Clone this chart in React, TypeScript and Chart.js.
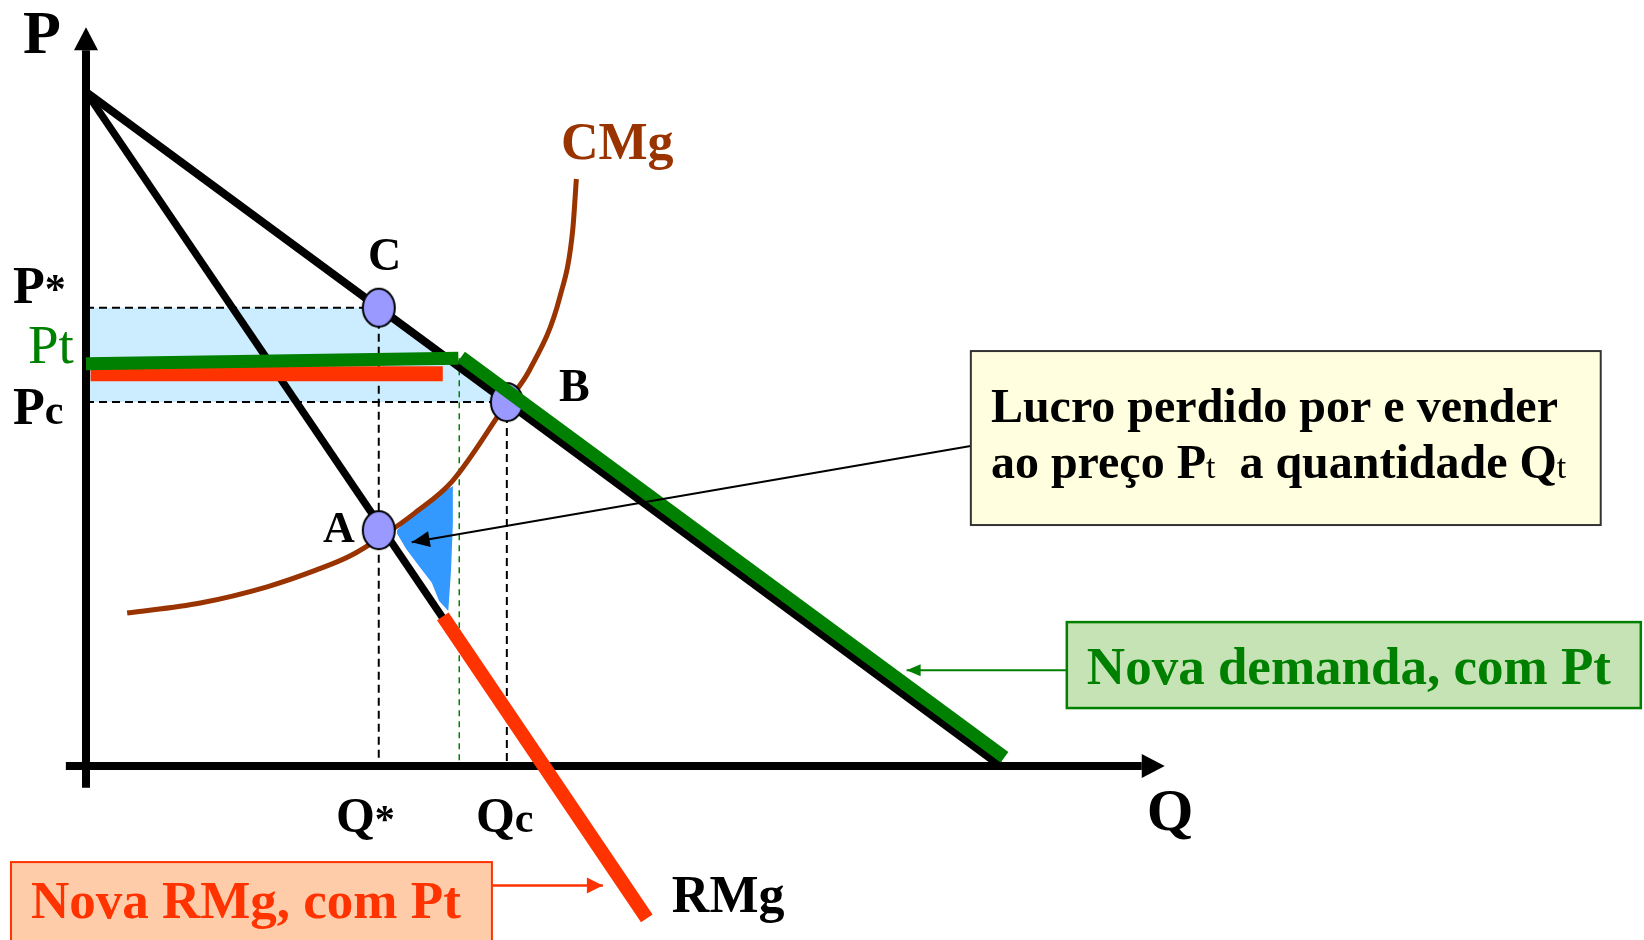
import { useEffect, useRef } from "react";
import { Chart, registerables } from "chart.js";

Chart.register(...registerables);

// Visible window of the Q (x) and P (y) axes
const Q_MIN = -0.94;
const Q_MAX = 17.03;
const P_MIN = -2.58;
const P_MAX = 11.365;

// Market demand and the monopolist's marginal revenue
const demandQ = [0, 10];
const demandP = [10, 0];
const rmgQ = [0, 3.9];
const rmgP = [10, 2.2];

// Marginal cost curve (CMg)
const cmgQ = [0.45, 1.25, 1.98, 2.52, 2.89, 3.25, 3.6, 4.0, 4.6, 4.85, 5.18, 5.32, 5.36];
const cmgP = [2.27, 2.42, 2.66, 2.91, 3.12, 3.42, 3.76, 4.22, 5.39, 5.88, 6.96, 7.95, 8.71];

// Key price / quantity levels
const pStar = 6.8;
const qStar = 3.2;
const pComp = 5.4;
const qComp = 4.6;
const pCeilLeft = 5.97;
const pCeilRight = 6.05;
const qCeil = 4.08;

// Equilibrium points C, B, A
const pointLabels = ["C", "B", "A"];
const pointQ = [qStar, qComp, qStar];
const pointP = [pStar, pComp, 3.5];

// New demand with the ceiling price Pt: flat part and the part along demand
const newDemandFlatQ = [0, 4.07];
const newDemandFlatP = [pCeilLeft, pCeilRight];
const newDemandSlopeQ = [4.1, 10.04];
const newDemandSlopeP = [6.07, 0.13];

// New marginal revenue with Pt: flat part and the remaining part of RMg
const newRmgFlatQ = [0.05, 3.9];
const newRmgFlatP = [5.82, 5.82];
const newRmgDownQ = [3.9, 6.13];
const newRmgDownP = [2.22, -2.26];

// Shaded band between P* and Pc under the demand curve
const bandQ = [0, qStar, qComp, 0];
const bandP = [pStar, pStar, pComp, pComp];

// Lost profit region between CMg and RMg
const lostQ = [3.4, 3.55, 3.78, 4.01, 4.01, 3.99, 3.96, 3.86, 3.78, 3.65, 3.5, 3.4];
const lostP = [3.5, 3.72, 3.98, 4.15, 3.6, 2.9, 2.3, 2.45, 2.72, 2.95, 3.22, 3.45];

// Axes
const axisXQ = [-0.22, 11.54];
const axisXP = [0, 0];
const axisYQ = [0, 0];
const axisYP = [-0.32, 10.62];

// Pointer arrows from the text boxes
const lucroArrowQ = [9.67, 3.56];
const lucroArrowP = [4.75, 3.32];
const demandaArrowQ = [10.72, 8.97];
const demandaArrowP = [1.42, 1.42];
const rmgArrowQ = [4.44, 5.65];
const rmgArrowP = [-1.77, -1.77];

const SERIF = '"Liberation Serif", "Times New Roman", serif';
const GREEN = "#008000";
const RED = "#FF3300";
const BROWN = "#993300";

type Run = { t: string; size: number; bold?: boolean };
type Label = { q: number; p: number; color: string; runs: Run[] };

const LABELS: Label[] = [
  { q: -0.689, p: 10.579, color: "#000", runs: [{ t: "P", size: 62 }] },
  { q: 11.596, p: -0.95, color: "#000", runs: [{ t: "Q", size: 60 }] },
  { q: -0.798, p: 6.87, color: "#000", runs: [{ t: "P", size: 52 }, { t: "*", size: 42 }] },
  { q: -0.634, p: 5.979, color: GREEN, runs: [{ t: "Pt", size: 55, bold: false }] },
  { q: -0.798, p: 5.074, color: "#000", runs: [{ t: "P", size: 52 }, { t: "c", size: 42 }] },
  { q: 3.082, p: 7.359, color: "#000", runs: [{ t: pointLabels[0], size: 46 }] },
  { q: 5.169, p: 5.415, color: "#000", runs: [{ t: pointLabels[1], size: 46 }] },
  { q: 2.59, p: 3.323, color: "#000", runs: [{ t: pointLabels[2], size: 44 }] },
  { q: 5.191, p: 9.006, color: BROWN, runs: [{ t: "CMg", size: 52 }] },
  { q: 2.732, p: -0.979, color: "#000", runs: [{ t: "Q", size: 50 }, { t: "*", size: 40 }] },
  { q: 4.262, p: -0.979, color: "#000", runs: [{ t: "Q", size: 50 }, { t: "c", size: 42 }] },
  { q: 6.404, p: -2.166, color: "#000", runs: [{ t: "RMg", size: 52 }] },
  { q: 9.891, p: 5.104, color: "#000", runs: [{ t: "Lucro perdido por e vender", size: 48 }] },
  {
    q: 9.891,
    p: 4.273,
    color: "#000",
    runs: [
      { t: "ao preço P", size: 48 },
      { t: "t", size: 34, bold: false },
      { t: "  a quantidade Q", size: 48 },
      { t: "t", size: 34, bold: false },
    ],
  },
  { q: 10.94, p: 1.217, color: GREEN, runs: [{ t: "Nova demanda, com Pt", size: 53 }] },
  { q: -0.601, p: -2.255, color: RED, runs: [{ t: "Nova RMg, com Pt", size: 53 }] },
];

type Box = { q0: number; p0: number; q1: number; p1: number; fill: string; stroke: string; lw: number };
const BOXES: Box[] = [
  { q0: 9.672, p0: 6.157, q1: 16.557, p1: 3.576, fill: "#FFFFE0", stroke: "#333333", lw: 2 },
  { q0: 10.721, p0: 2.136, q1: 16.995, p1: 0.861, fill: "#C5E3B5", stroke: GREEN, lw: 2.5 },
  { q0: -0.82, p0: -1.424, q1: 4.437, p1: -2.7, fill: "#FFCCAA", stroke: RED, lw: 2 },
];

const toPts = (qs: number[], ps: number[]) => qs.map((q, i) => ({ x: q, y: ps[i] }));

function makeEllipse(): HTMLCanvasElement {
  const c = document.createElement("canvas");
  c.width = 36;
  c.height = 42;
  const g = c.getContext("2d")!;
  g.beginPath();
  g.ellipse(18, 21, 16, 19, 0, 0, Math.PI * 2);
  g.fillStyle = "#9999FF";
  g.fill();
  g.lineWidth = 2;
  g.strokeStyle = "#000";
  g.stroke();
  return c;
}

const arrowPlugin = {
  id: "arrowHeads",
  afterDatasetsDraw(chart: any) {
    const ctx = chart.ctx as CanvasRenderingContext2D;
    chart.data.datasets.forEach((ds: any, i: number) => {
      if (!ds.arrowHead) return;
      const pts = chart.getDatasetMeta(i).data;
      const a = pts[pts.length - 2];
      const b = pts[pts.length - 1];
      const ang = Math.atan2(b.y - a.y, b.x - a.x);
      const { len, half, beyond } = ds.arrowHead;
      const tx = b.x + (beyond ? len * Math.cos(ang) : 0);
      const ty = b.y + (beyond ? len * Math.sin(ang) : 0);
      ctx.save();
      ctx.translate(tx, ty);
      ctx.rotate(ang);
      ctx.beginPath();
      ctx.moveTo(0, 0);
      ctx.lineTo(-len, -half);
      ctx.lineTo(-len, half);
      ctx.closePath();
      ctx.fillStyle = ds.borderColor;
      ctx.fill();
      ctx.restore();
    });
  },
};

const labelPlugin = {
  id: "boxesAndLabels",
  afterDatasetsDraw(chart: any) {
    const ctx = chart.ctx as CanvasRenderingContext2D;
    const xs = chart.scales.x;
    const ys = chart.scales.y;
    ctx.save();
    for (const b of BOXES) {
      const x0 = xs.getPixelForValue(b.q0);
      const x1 = xs.getPixelForValue(b.q1);
      const y0 = ys.getPixelForValue(b.p0);
      const y1 = ys.getPixelForValue(b.p1);
      ctx.fillStyle = b.fill;
      ctx.fillRect(x0, y0, x1 - x0, y1 - y0);
      ctx.strokeStyle = b.stroke;
      ctx.lineWidth = b.lw;
      ctx.strokeRect(x0, y0, x1 - x0, y1 - y0);
    }
    ctx.textAlign = "left";
    ctx.textBaseline = "alphabetic";
    for (const l of LABELS) {
      let px = xs.getPixelForValue(l.q);
      const py = ys.getPixelForValue(l.p);
      for (const r of l.runs) {
        ctx.font = `${r.bold === false ? "" : "bold "}${r.size}px ${SERIF}`;
        ctx.fillStyle = l.color;
        ctx.fillText(r.t, px, py);
        px += ctx.measureText(r.t).width;
      }
    }
    ctx.restore();
  },
};

const line = (data: any[], color: string, width: number, order: number, extra: any = {}) => ({
  data,
  showLine: true,
  borderColor: color,
  borderWidth: width,
  pointRadius: 0,
  fill: false,
  order,
  ...extra,
});

export default function App() {
  const canvasRef = useRef<HTMLCanvasElement | null>(null);

  useEffect(() => {
    const canvas = canvasRef.current;
    if (!canvas) return;
    const dash = { borderDash: [8, 5] };
    const chart = new Chart(canvas, {
      type: "scatter",
      data: {
        datasets: [
          line(toPts(bandQ, bandP), "rgba(0,0,0,0)", 0, 30, { fill: "shape", backgroundColor: "#CCECFF" }),
          line(toPts(lostQ, lostP), "rgba(0,0,0,0)", 0, 29, { fill: "shape", backgroundColor: "#3399FF" }),
          line(toPts([0, qStar], [pStar, pStar]), "#000", 2, 28, dash),
          line(toPts([0, qComp], [pComp, pComp]), "#000", 2, 28, dash),
          line(toPts([qStar, qStar], [pStar, 0]), "#000", 2, 28, dash),
          line(toPts([qComp, qComp], [pComp, 0]), "#000", 2, 28, dash),
          line(toPts([qCeil, qCeil], [pCeilRight, 0]), GREEN, 1.5, 28, { borderDash: [6, 5] }),
          line(toPts(axisXQ, axisXP), "#000", 8, 27, { arrowHead: { len: 23, half: 12, beyond: true } }),
          line(toPts(axisYQ, axisYP), "#000", 8, 27, { arrowHead: { len: 23, half: 12, beyond: true } }),
          line(toPts(cmgQ, cmgP), BROWN, 5, 26, { cubicInterpolationMode: "monotone" }),
          line(toPts(demandQ, demandP), "#000", 8, 25),
          line(toPts(rmgQ, rmgP), "#000", 7.5, 24),
          {
            data: toPts(pointQ, pointP),
            showLine: false,
            pointStyle: makeEllipse(),
            pointRadius: 19,
            order: 23,
          },
          line(toPts(newRmgFlatQ, newRmgFlatP), RED, 15, 22),
          line(toPts(newDemandFlatQ, newDemandFlatP), GREEN, 13, 21),
          line(toPts(newDemandSlopeQ, newDemandSlopeP), GREEN, 13, 20),
          line(toPts(newRmgDownQ, newRmgDownP), RED, 14, 19),
          line(toPts(lucroArrowQ, lucroArrowP), "#000", 2, 10, { arrowHead: { len: 18, half: 8 } }),
          line(toPts(demandaArrowQ, demandaArrowP), GREEN, 2, 10, { arrowHead: { len: 14, half: 6 } }),
          line(toPts(rmgArrowQ, rmgArrowP), RED, 2.5, 10, { arrowHead: { len: 16, half: 8 } }),
        ] as any,
      },
      options: {
        animation: false,
        responsive: false,
        events: [],
        layout: { padding: 0, autoPadding: false },
        plugins: { legend: { display: false }, tooltip: { enabled: false } },
        scales: {
          x: { type: "linear", min: Q_MIN, max: Q_MAX, display: false },
          y: { type: "linear", min: P_MIN, max: P_MAX, display: false },
        },
      },
      plugins: [arrowPlugin, labelPlugin],
    });
    return () => chart.destroy();
  }, []);

  return (
    <div style={{ position: "fixed", left: 0, top: 0, width: 1644, height: 940, background: "#fff" }}>
      <canvas ref={canvasRef} width={1644} height={940} style={{ display: "block" }} />
    </div>
  );
}
